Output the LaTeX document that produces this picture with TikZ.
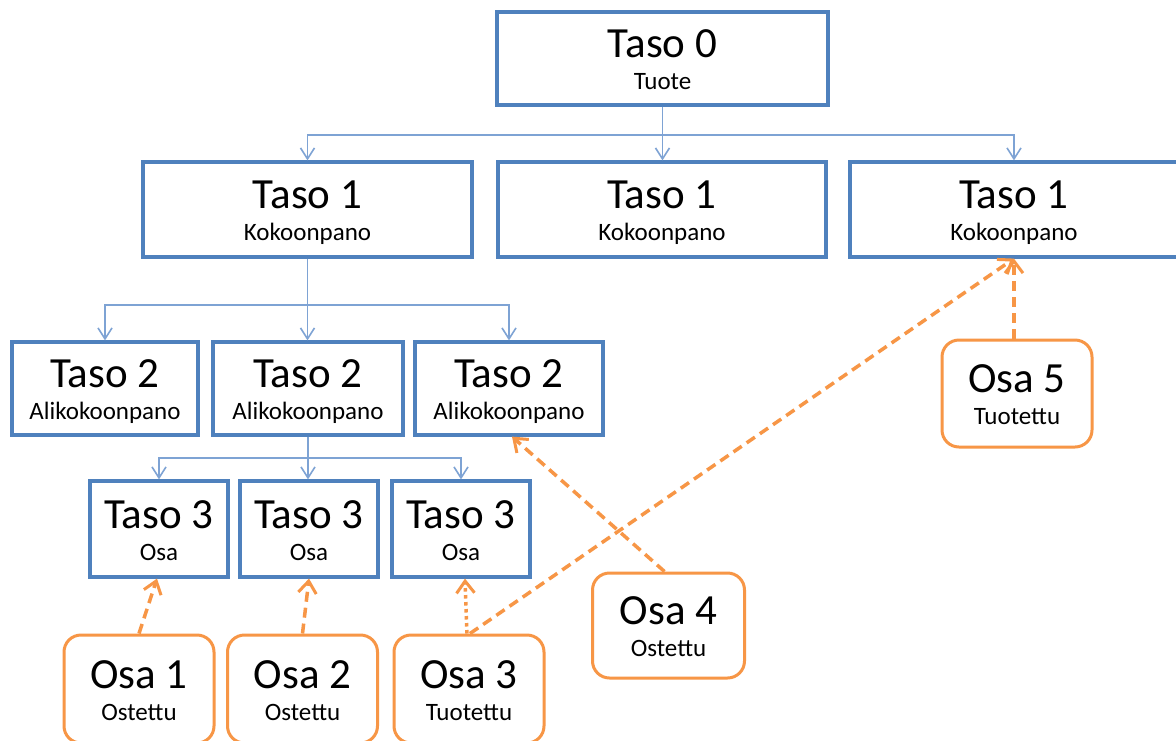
\documentclass[tikz,border=0pt]{standalone}
\usepackage{fontspec}
\setmainfont{Carlito}
\usetikzlibrary{arrows.meta,calc}
\definecolor{boxblue}{HTML}{4F81BD}
\definecolor{linkblue}{HTML}{7EA3D4}
\definecolor{partorange}{HTML}{F79646}

% box with a large title and a small subtitle
% #1 style, #2 name, #3 x, #4 y, #5 width, #6 height, #7 title, #8 subtitle
\newcommand\labelledbox[8]{%
  \node[#1, minimum width=#5pt, minimum height=#6pt] (#2) at (#3,#4) {};
  \node[ttl] (#2-t) at ($(#2.center)+(0,-1)$) {#7};
  \node[sub] (#2-s) at ($(#2.center)+(0,31)$) {#8};
}

\begin{document}
\begin{tikzpicture}[x=1pt,y=-1pt,
  level/.style={draw=boxblue, line width=3.2pt, fill=white, inner sep=0pt},
  part/.style={draw=partorange, line width=3pt, rounded corners=17pt, fill=white, inner sep=0pt},
  ttl/.style={anchor=base, font=\fontsize{43}{47}\selectfont, inner sep=0pt},
  sub/.style={anchor=base, font=\fontsize{25}{28}\selectfont, inner sep=0pt},
  tree/.style={draw=linkblue, line width=1.6pt,
    -{Straight Barb[length=11pt,width=14pt,line width=1.6pt]}},
  supply/.style={draw=partorange, line width=3.5pt, dash pattern=on 10pt off 6pt,
    -{Straight Barb[length=12pt,width=18pt,line width=3pt]}},
  supplydots/.style={supply, dash pattern=on 3.5pt off 3.5pt},
]
\useasboundingbox (0,0) rectangle (1176,740);
\fill[white] (0,0) rectangle (1176,740);

% product structure levels
\labelledbox{level}{t0}{662.5}{58.5}{331}{93}{Taso 0}{Tuote}
\labelledbox{level}{t1a}{307.5}{209.5}{329}{95}{Taso 1}{Kokoonpano}
\labelledbox{level}{t1b}{662}{209.5}{328}{95}{Taso 1}{Kokoonpano}
\labelledbox{level}{t1c}{1014}{209.5}{328}{95}{Taso 1}{Kokoonpano}
\labelledbox{level}{t2a}{105}{388.5}{186}{93}{Taso 2}{Alikokoonpano}
\labelledbox{level}{t2b}{308}{388.5}{190}{93}{Taso 2}{Alikokoonpano}
\labelledbox{level}{t2c}{509}{388.5}{188}{93}{Taso 2}{Alikokoonpano}
\labelledbox{level}{t3a}{159}{529}{138}{96}{Taso 3}{Osa}
\labelledbox{level}{t3b}{309}{529}{138}{96}{Taso 3}{Osa}
\labelledbox{level}{t3c}{461}{529}{138}{96}{Taso 3}{Osa}

% parts
\labelledbox{part}{o1}{139}{689}{150}{108}{Osa 1}{Ostettu}
\labelledbox{part}{o2}{302.5}{689}{150}{108}{Osa 2}{Ostettu}
\labelledbox{part}{o3}{469}{689}{150}{108}{Osa 3}{Tuotettu}
\labelledbox{part}{o4}{668.5}{625.5}{152}{105}{Osa 4}{Ostettu}
\labelledbox{part}{o5}{1017}{393.5}{150}{107}{Osa 5}{Tuotettu}

% tree connectors
\coordinate (bus0) at (0,135);
\coordinate (bus1) at (0,305);
\coordinate (bus2) at (0,458);
\draw[tree] (t0.south) -- (t0.south |- bus0) -| (t1a.north);
\draw[tree] (t0.south |- bus0) -| (t1c.north);
\draw[tree] (t0.south) -- (t0.south |- t1b.north);
\draw[tree] (t1a.south) -- (t1a.south |- bus1) -| (t2a.north);
\draw[tree] (t1a.south |- bus1) -| (t2c.north);
\draw[tree] (t1a.south) -- (t1a.south |- t2b.north);
\draw[tree] (t2b.south) -- (t2b.south |- bus2) -| (t3a.north);
\draw[tree] (t2b.south |- bus2) -| (t3c.north);
\draw[tree] (t2b.south) -- (t2b.south |- t3b.north);

% part links
\draw[supply] (o1.north) -- ([xshift=-2pt]t3a.south);
\draw[supply] (o2.north) -- (t3b.south);
\draw[supplydots] ([xshift=-2pt]o3.north) -- ([xshift=4pt]t3c.south);
\draw[supply] ([xshift=1pt]o3.north) -- (t1c.south);
\draw[supply] ([xshift=-4pt]o4.north) -- ([xshift=3pt]t2c.south);
\draw[supply] (t1c.south |- o5.north) -- (t1c.south);
\end{tikzpicture}
\end{document}
